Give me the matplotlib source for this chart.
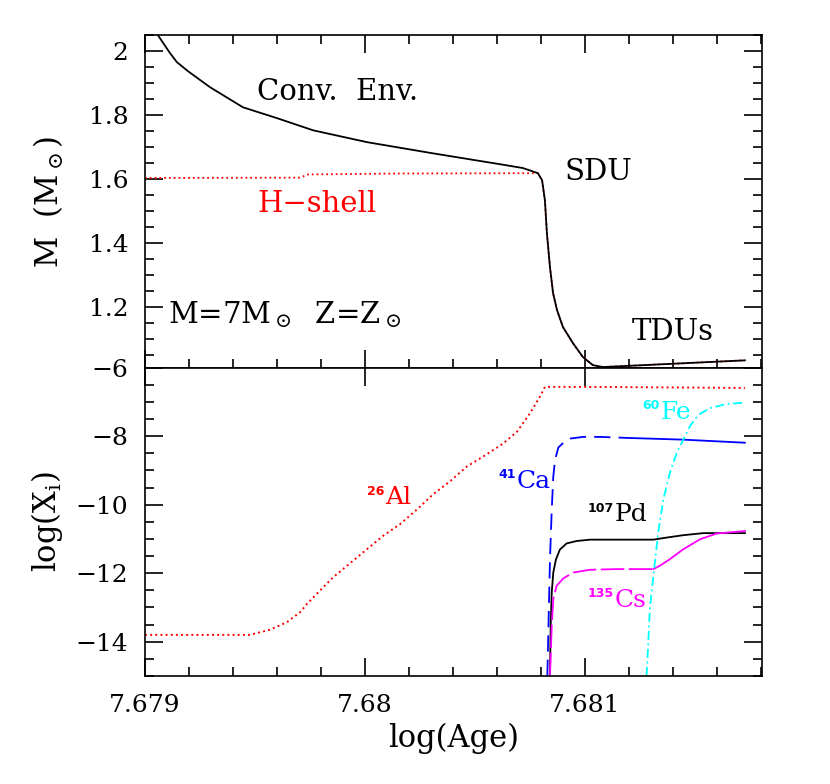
import matplotlib
matplotlib.use("Agg")
import matplotlib.pyplot as plt
from matplotlib.ticker import MultipleLocator, FuncFormatter

plt.rcParams['font.family'] = ['DejaVu Serif']
plt.rcParams['mathtext.fontset'] = 'dejavuserif'

# top panel: convective envelope and H-shell (mass coordinate, Msun)
env_age = [7.679020, 7.679059, 7.679114, 7.679145, 7.679195, 7.679295, 7.679445,
           7.679600, 7.679764, 7.680009, 7.680309, 7.680614, 7.680718, 7.680786,
           7.680805, 7.680818, 7.680827, 7.680841, 7.680855, 7.680873, 7.680900,
           7.680945, 7.680991, 7.681036, 7.681082, 7.681727]
env_mass = [2.12, 2.049, 1.993, 1.965, 1.937, 1.887, 1.824,
            1.790, 1.752, 1.715, 1.680, 1.646, 1.634, 1.618,
            1.596, 1.533, 1.430, 1.324, 1.243, 1.190, 1.137,
            1.087, 1.043, 1.018, 1.012, 1.033]

hsh_age = [7.679000, 7.679705, 7.679740, 7.680160, 7.680786, 7.680805, 7.680818,
           7.680827, 7.680841, 7.680855, 7.680873, 7.680900, 7.680945, 7.680991,
           7.681036, 7.681082, 7.681727]
hsh_mass = [1.603, 1.604, 1.614, 1.617, 1.618, 1.596, 1.533,
            1.430, 1.324, 1.243, 1.190, 1.137, 1.087, 1.043,
            1.018, 1.012, 1.033]

# bottom panel: log abundances
al26_age = [7.679000, 7.679477, 7.679568, 7.679645, 7.679705, 7.679736, 7.679795,
            7.679855, 7.679945, 7.680009, 7.680082, 7.680159, 7.680236, 7.680309,
            7.680386, 7.680464, 7.680536, 7.680627, 7.680691, 7.680750, 7.680795,
            7.680818, 7.680991, 7.681727]
al26_x = [-13.80, -13.80, -13.65, -13.43, -13.14, -12.90, -12.51,
          -12.12, -11.64, -11.30, -10.91, -10.57, -10.14, -9.70,
          -9.32, -8.88, -8.60, -8.22, -7.87, -7.33, -6.85,
          -6.56, -6.56, -6.59]

ca41_age = [7.680829, 7.680841, 7.680849, 7.680856, 7.680864, 7.680879, 7.680902,
            7.680932, 7.680992, 7.681068, 7.681191]
ca41_x = [-15.0, -11.59, -10.14, -9.18, -8.69, -8.33, -8.19,
          -8.07, -8.02, -8.02, -8.05]
ca41_tail_age = [7.681191, 7.681445, 7.681727]
ca41_tail_x = [-8.05, -8.10, -8.19]

pd107_age = [7.680841, 7.680844, 7.680849, 7.680856, 7.680868, 7.680886, 7.680917,
             7.680962, 7.681023, 7.681145, 7.681311, 7.681371, 7.681447, 7.681538,
             7.681727]
pd107_x = [-15.0, -13.54, -12.56, -11.98, -11.60, -11.31, -11.13,
           -11.06, -11.02, -11.02, -11.02, -10.96, -10.89, -10.83,
           -10.83]

cs135_age = [7.680841, 7.680849, 7.680856, 7.680871, 7.680902, 7.680947, 7.681023,
             7.681144, 7.681311]
cs135_x = [-15.0, -13.53, -12.75, -12.37, -12.15, -11.98, -11.90,
           -11.88, -11.88]
cs135_tail_age = [7.681311, 7.681341, 7.681386, 7.681447, 7.681523, 7.681599, 7.681727]
cs135_tail_x = [-11.88, -11.78, -11.59, -11.30, -11.01, -10.84, -10.77]

fe60_age = [7.681280, 7.681288, 7.681295, 7.681311, 7.681333, 7.681356, 7.681386,
            7.681417, 7.681447, 7.681477, 7.681515, 7.681568, 7.681644, 7.681727]
fe60_x = [-15.0, -14.01, -13.04, -12.08, -10.81, -9.85, -9.07,
          -8.49, -8.10, -7.71, -7.38, -7.18, -7.06, -7.02]

fig = plt.figure(figsize=(8.3, 7.84), dpi=100)
ax1 = fig.add_axes([0.1747, 0.531, 0.7433, 0.4244])
ax2 = fig.add_axes([0.1747, 0.1378, 0.7433, 0.3932], sharex=ax1)

ax1.plot(hsh_age, hsh_mass, color='red', ls=':', lw=1.3)
ax1.plot(env_age, env_mass, color='black', lw=1.3)

ax2.plot(al26_age, al26_x, color='red', ls=':', lw=1.4)
ax2.plot(ca41_age, ca41_x, color='blue', ls=(0, (9, 4.5)), lw=1.3)
ax2.plot(ca41_tail_age, ca41_tail_x, color='blue', lw=1.3)
ax2.plot(pd107_age, pd107_x, color='black', lw=1.3)
ax2.plot(cs135_age, cs135_x, color='magenta', ls=(0, (13, 2.5)), lw=1.3)
ax2.plot(cs135_tail_age, cs135_tail_x, color='magenta', lw=1.3)
ax2.plot(fe60_age, fe60_x, color='cyan', ls=(0, (5, 2, 1, 2)), lw=1.3)

ax1.set_xlim(7.679, 7.6818045)
ax1.set_ylim(1.01, 2.05)
ax2.set_ylim(-15, -6)


def num(v):
    return ('%g' % v).replace('-', '\u2212')


def xfmt(v, pos):
    k = v * 1000
    if abs(k - round(k)) < 1e-6:
        return num(round(v, 3))
    return ''


for ax in (ax1, ax2):
    ax.tick_params(which='both', direction='in', top=True, right=True,
                   labelsize=18, width=1.2, pad=12)
    ax.tick_params(which='major', length=13)
    ax.tick_params(which='minor', length=6.5)
    for s in ax.spines.values():
        s.set_linewidth(1.2)

ax1.xaxis.set_major_locator(MultipleLocator(0.0005))
ax1.xaxis.set_minor_locator(MultipleLocator(0.0001))
ax1.yaxis.set_major_locator(MultipleLocator(0.2))
ax1.yaxis.set_minor_locator(MultipleLocator(0.05))
ax1.yaxis.set_major_formatter(FuncFormatter(lambda v, p: num(round(v, 2))))
ax1.tick_params(labelbottom=False)

ax2.xaxis.set_major_locator(MultipleLocator(0.001))
ax2.xaxis.set_minor_locator(MultipleLocator(0.0002))
ax2.xaxis.set_major_formatter(FuncFormatter(xfmt))
ax2.yaxis.set_major_locator(MultipleLocator(2))
ax2.yaxis.set_minor_locator(MultipleLocator(0.5))
ax2.yaxis.set_major_formatter(FuncFormatter(lambda v, p: num(v) if v > -15 else ''))
ax2.tick_params(which='minor', top=False)
ax2.tick_params(axis='x', pad=13)

ax1.set_ylabel(r'M  (M$_\odot$)', fontsize=22, labelpad=16)
ax2.set_ylabel(r'log(X$_{\rm i}$)', fontsize=22, labelpad=8)
ax2.set_xlabel('log(Age)', fontsize=22, labelpad=4)

fs = 21
ax1.text(7.679509, 1.846, 'Conv.  Env.', fontsize=fs)
ax1.text(7.679509, 1.496, 'H\u2212shell', fontsize=fs, color='red')
ax1.text(7.680909, 1.596, 'SDU', fontsize=fs)
ax1.text(7.681214, 1.096, 'TDUs', fontsize=fs)
ax1.text(7.679105, 1.149, r'M=7M$_\odot$  Z=Z$_\odot$', fontsize=fs)


def isotope(x, y, mass, elem, color):
    # small bold mass number, then the element symbol
    ax2.annotate(mass, (x, y), xytext=(0, 7), textcoords='offset points',
                 fontsize=9, fontweight='bold', family='DejaVu Sans', color=color)
    ax2.annotate(elem, (x, y), xytext=(len(mass) * 6.3 + 0.5, 0),
                 textcoords='offset points', fontsize=18, color=color)


isotope(7.680009, -9.99, '26', 'Al', 'red')
isotope(7.680605, -9.50, '41', 'Ca', 'blue')
isotope(7.681014, -10.49, '107', 'Pd', 'black')
isotope(7.681014, -12.99, '135', 'Cs', 'magenta')
isotope(7.681259, -7.49, '60', 'Fe', 'cyan')

fig.savefig('out.png', dpi=100)
